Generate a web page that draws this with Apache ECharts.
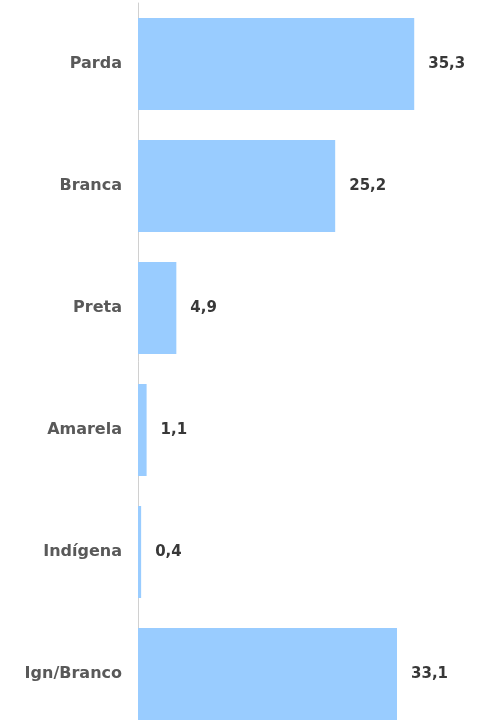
<!DOCTYPE html>
<html>
<head>
<meta charset="utf-8">
<script src="https://cdn.jsdelivr.net/npm/echarts@6/dist/echarts.min.js"></script>
<style>
  html, body { margin: 0; padding: 0; background: #fff; }
  #chart { width: 479px; height: 720px; }
</style>
</head>
<body>
<div id="chart"></div>
<script>
// categories top to bottom
const categories = ['Parda', 'Branca', 'Preta', 'Amarela', 'Indígena', 'Ign/Branco'];
const values = [35.3, 25.2, 4.9, 1.1, 0.4, 33.1];

const chart = echarts.init(document.getElementById('chart'));

chart.setOption({
  animation: false,
  // last band runs past the bottom edge, like the reference crop
  grid: { left: 138, width: 313, top: 3, height: 732, outerBoundsMode: 'none' },
  xAxis: {
    type: 'value',
    min: 0,
    max: 40,
    show: false
  },
  yAxis: {
    type: 'category',
    inverse: true,
    data: categories,
    axisLine: { show: true, lineStyle: { color: '#d0d0d0', width: 1 } },
    axisTick: { show: false },
    axisLabel: {
      margin: 16,
      color: '#595959',
      fontFamily: 'DejaVu Sans',
      fontWeight: 'bold',
      fontSize: 16
    }
  },
  series: [{
    type: 'bar',
    data: values,
    barCategoryGap: '24.6%',
    itemStyle: { color: '#99ccff' },
    label: {
      show: true,
      position: 'right',
      distance: 14,
      color: '#383838',
      fontFamily: 'DejaVu Sans',
      fontSize: 15,
      fontWeight: 'bold',
      formatter: p => String(p.value).replace('.', ',')
    }
  }]
});
</script>
</body>
</html>
